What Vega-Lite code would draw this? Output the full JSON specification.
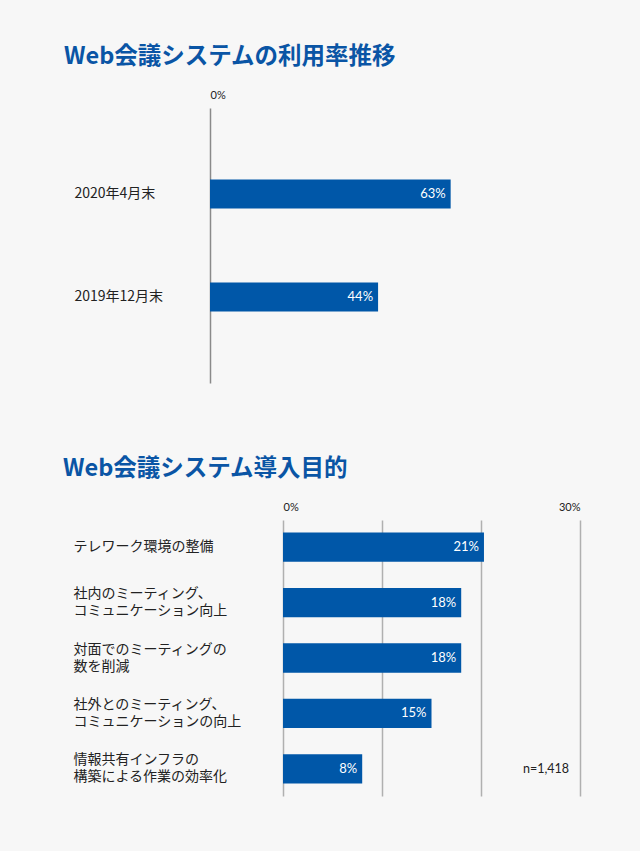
{
  "$schema": "https://vega.github.io/schema/vega-lite/v6.json",
  "background": "#f7f7f7",
  "padding": {"left": 63, "top": 44, "right": 49, "bottom": 56},
  "config": {
    "font": "Noto Sans CJK JP",
    "view": {"stroke": null},
    "concat": {"spacing": 73}
  },
  "vconcat": [
    {
      "title": {"text": "Web会議システムの利用率推移", "anchor": "start", "frame": "bounds", "color": "#0a55a5", "fontSize": 23.5, "fontWeight": "bold", "offset": 21, "dx": -10},
      "width": 382,
      "height": 275,
      "data": {"values": [
        {"period": "2020年4月末", "rate": 63, "label": "63%"},
        {"period": "2019年12月末", "rate": 44, "label": "44%"}
      ]},
      "encoding": {
        "y": {"field": "period", "type": "nominal", "sort": null,
          "scale": {"paddingInner": 0.718, "paddingOuter": 0.694},
          "axis": {"title": null, "domain": false, "ticks": false, "labelAlign": "left", "labelPadding": 136, "labelFontSize": 14, "labelColor": "#222"}}
      },
      "layer": [
        {
          "mark": {"type": "bar", "color": "#0057a8"},
          "encoding": {
            "x": {"field": "rate", "type": "quantitative", "scale": {"domain": [0, 100]},
              "axis": {"orient": "top", "title": null, "values": [0], "labelExpr": "datum.value + '%'", "grid": true, "gridColor": "#8a8a8a", "gridWidth": 1.5, "domain": false, "ticks": false, "labelPadding": 8, "labelFontSize": 11, "labelColor": "#222", "labelFont": "Lato"}}
          }
        },
        {
          "mark": {"type": "text", "align": "right", "dx": -5, "color": "white", "fontSize": 13, "font": "Lato"},
          "encoding": {
            "x": {"field": "rate", "type": "quantitative"},
            "text": {"field": "label"}
          }
        }
      ]
    },
    {
      "title": {"text": "Web会議システム導入目的", "anchor": "start", "frame": "bounds", "color": "#0a55a5", "fontSize": 23.5, "fontWeight": "bold", "offset": 21, "dx": -10},
      "width": 370,
      "height": 276,
      "data": {"values": [
        {"item": "テレワーク環境の整備", "rate": 20.3, "label": "21%"},
        {"item": "社内のミーティング、\nコミュニケーション向上", "rate": 18, "label": "18%"},
        {"item": "対面でのミーティングの\n数を削減", "rate": 18, "label": "18%"},
        {"item": "社外とのミーティング、\nコミュニケーションの向上", "rate": 15, "label": "15%"},
        {"item": "情報共有インフラの\n構築による作業の効率化", "rate": 8, "label": "8%"}
      ]},
      "encoding": {
        "y": {"field": "item", "type": "nominal", "sort": null,
          "scale": {"paddingInner": 0.471, "paddingOuter": 0.226},
          "axis": {"title": null, "domain": false, "ticks": false, "labelAlign": "left", "labelPadding": 137, "labelFontSize": 14, "labelColor": "#222", "labelLineHeight": 17, "labelExpr": "split(datum.label, '\\n')",
            "labelOffset": {"condition": {"test": "indexof(datum.value, '\\n') >= 0", "value": -8.5}, "value": 0}}}
      },
      "layer": [
        {
          "mark": {"type": "bar", "color": "#0057a8"},
          "encoding": {
            "x": {"field": "rate", "type": "quantitative", "scale": {"domain": [0, 30], "range": [73, 370]},
              "axis": {"orient": "top", "title": null, "values": [0, 10, 20, 30], "labelExpr": "datum.value == 0 || datum.value == 30 ? datum.value + '%' : ''", "grid": true, "gridColor": "#b0b0b0", "gridWidth": 1.5, "domain": false, "ticks": false, "labelPadding": 8, "labelFontSize": 11, "labelColor": "#222", "labelFont": "Lato"}}
          }
        },
        {
          "mark": {"type": "rule", "color": "#7a7a7a", "strokeWidth": 1.5},
          "encoding": {"x": {"datum": 0}}
        },
        {
          "mark": {"type": "text", "align": "right", "dx": -5, "color": "white", "fontSize": 13, "font": "Lato"},
          "encoding": {
            "x": {"field": "rate", "type": "quantitative"},
            "text": {"field": "label"}
          }
        },
        {
          "data": {"values": [{"note": "n=1,418", "pos": 30, "item": "情報共有インフラの\n構築による作業の効率化"}]},
          "mark": {"type": "text", "align": "right", "dx": -11, "color": "#222", "fontSize": 12.5, "font": "Lato"},
          "encoding": {
            "x": {"field": "pos", "type": "quantitative"},
            "y": {"field": "item", "type": "nominal", "sort": null},
            "text": {"field": "note"}
          }
        }
      ]
    }
  ]
}
